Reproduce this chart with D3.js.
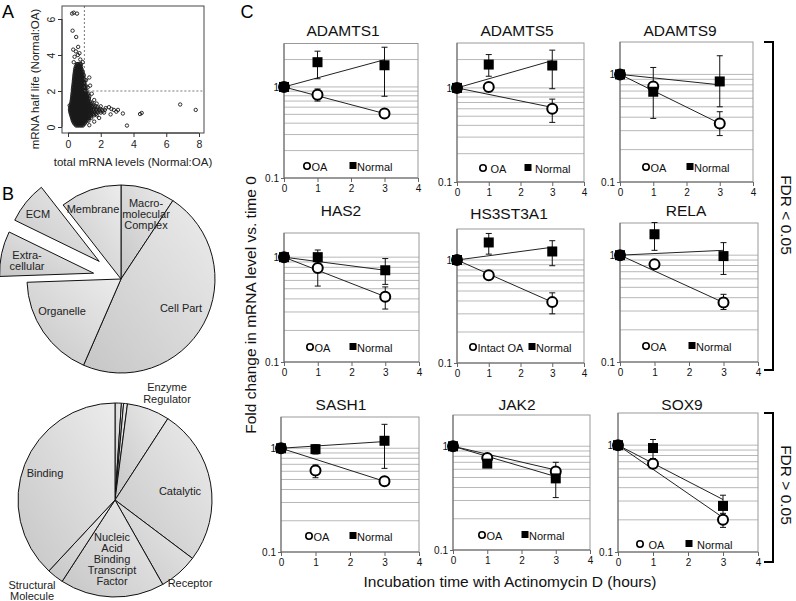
<!DOCTYPE html>
<html><head><meta charset="utf-8">
<script src="https://cdn.jsdelivr.net/npm/d3@7"></script>
<style>body{margin:0;background:#fff}svg{display:block;font-family:"Liberation Sans",Arial,sans-serif}</style>
</head><body><svg id="c" width="796" height="601"></svg>
<script>
// ---------------- Panel A data (half life ratio vs total level ratio) ----------------
const scatterRows = [
 [3.5,[0.55,0.62,0.7,0.78]],
 [3.42,[0.52,0.6,0.68,0.76]],
 [3.35,[0.48,0.56,0.64,0.72,0.8]],
 [3.27,[0.46,0.54,0.62,0.7,0.78]],
 [3.2,[0.44,0.52,0.6,0.68,0.76,0.84]],
 [3.12,[0.43,0.51,0.59,0.67,0.75,0.83]],
 [3.05,[0.42,0.5,0.58,0.66,0.74,0.82,0.9]],
 [2.97,[0.41,0.49,0.57,0.65,0.73,0.81,0.89]],
 [2.9,[0.4,0.48,0.56,0.64,0.72,0.8,0.88,0.96]],
 [2.82,[0.39,0.47,0.55,0.63,0.71,0.79,0.87,0.95]],
 [2.75,[0.38,0.46,0.54,0.62,0.7,0.78,0.86,0.94]],
 [2.67,[0.37,0.45,0.53,0.61,0.69,0.77,0.85,0.93]],
 [2.6,[0.36,0.44,0.52,0.6,0.68,0.76,0.84,0.92,1.02]],
 [2.52,[0.36,0.44,0.52,0.6,0.68,0.76,0.84,0.92,0.99]],
 [2.45,[0.35,0.43,0.51,0.59,0.67,0.75,0.83,0.91,1.0]],
 [2.37,[0.34,0.42,0.5,0.58,0.66,0.74,0.82,0.9,1.0]],
 [2.3,[0.33,0.41,0.49,0.57,0.65,0.73,0.81,0.89,0.98,1.08]],
 [2.22,[0.32,0.4,0.48,0.56,0.64,0.72,0.8,0.88,0.97,1.07]],
 [2.15,[0.31,0.39,0.47,0.55,0.63,0.71,0.79,0.87,0.96,1.06]],
 [2.07,[0.3,0.38,0.46,0.54,0.62,0.7,0.78,0.86,0.95,1.05]],
 [2.0,[0.3,0.38,0.46,0.54,0.62,0.7,0.78,0.86,0.94,1.03,1.13]],
 [1.92,[0.29,0.37,0.45,0.53,0.61,0.69,0.77,0.85,0.93,1.02,1.12]],
 [1.85,[0.28,0.36,0.44,0.52,0.6,0.68,0.76,0.84,0.92,1.0,1.1,1.22]],
 [1.77,[0.27,0.35,0.43,0.51,0.59,0.67,0.75,0.83,0.91,0.99,1.08,1.19]],
 [1.7,[0.26,0.34,0.42,0.5,0.58,0.66,0.74,0.82,0.9,0.98,1.07,1.17,1.3]],
 [1.62,[0.25,0.33,0.41,0.49,0.57,0.65,0.73,0.81,0.89,0.97,1.06,1.16,1.28]],
 [1.55,[0.24,0.32,0.4,0.48,0.56,0.64,0.72,0.8,0.88,0.96,1.05,1.15,1.27]],
 [1.47,[0.23,0.31,0.39,0.47,0.55,0.63,0.71,0.79,0.87,0.95,1.03,1.13,1.25]],
 [1.4,[0.22,0.3,0.38,0.46,0.54,0.62,0.7,0.78,0.86,0.94,1.02,1.11,1.22,1.35]],
 [1.32,[0.2,0.28,0.36,0.44,0.52,0.6,0.68,0.76,0.84,0.92,1.0,1.08,1.19,1.31,1.45]],
 [1.25,[0.18,0.26,0.34,0.42,0.5,0.58,0.66,0.74,0.82,0.9,0.98,1.06,1.16,1.27,1.4,1.55]],
 [1.17,[0.16,0.24,0.32,0.4,0.48,0.56,0.64,0.72,0.8,0.88,0.96,1.04,1.13,1.23,1.36,1.5,1.68]],
 [1.1,[0.14,0.22,0.3,0.38,0.46,0.54,0.62,0.7,0.78,0.86,0.94,1.02,1.1,1.2,1.32,1.46,1.62,1.8]],
 [1.02,[0.13,0.21,0.29,0.37,0.45,0.53,0.61,0.69,0.77,0.85,0.93,1.01,1.09,1.18,1.29,1.42,1.57,1.74,1.95]],
 [0.95,[0.12,0.2,0.28,0.36,0.44,0.52,0.6,0.68,0.76,0.84,0.92,1.0,1.08,1.17,1.28,1.4,1.54,1.7,1.88,2.06,2.25]],
 [0.87,[0.14,0.22,0.3,0.38,0.46,0.54,0.62,0.7,0.78,0.86,0.94,1.02,1.1,1.2,1.31,1.44,1.58,1.75,1.94,2.12]],
 [0.8,[0.15,0.23,0.31,0.39,0.47,0.55,0.63,0.71,0.79,0.87,0.95,1.03,1.12,1.22,1.34,1.47,1.62,1.8,2.0,2.2]],
 [0.72,[0.18,0.26,0.34,0.42,0.5,0.58,0.66,0.74,0.82,0.9,0.98,1.06,1.16,1.27,1.39,1.53,1.7]],
 [0.65,[0.2,0.28,0.36,0.44,0.52,0.6,0.68,0.76,0.84,0.92,1.0,1.09,1.19,1.3,1.43,1.58,1.75]],
 [0.57,[0.23,0.31,0.39,0.47,0.55,0.63,0.71,0.79,0.87,0.95,1.04,1.13,1.24,1.37]],
 [0.5,[0.25,0.33,0.41,0.49,0.57,0.65,0.73,0.81,0.89,0.97,1.06,1.16,1.28,1.42]],
 [0.42,[0.28,0.36,0.44,0.52,0.6,0.68,0.76,0.84,0.92,1.0,1.1,1.21]],
 [0.35,[0.3,0.38,0.46,0.54,0.62,0.7,0.78,0.86,0.94,1.03,1.13,1.25]],
 [0.27,[0.34,0.43,0.52,0.61,0.7,0.79,0.88,0.97,1.07]],
 [0.2,[0.38,0.47,0.56,0.65,0.74,0.83,0.92,1.02]],
 [0.14,[0.45,0.55,0.65,0.75,0.85,0.95]],
 [0.08,[0.5,0.6,0.7,0.8,0.9]]
];
const scatterOutliers = [
 [0.25,6.3],[0.35,6.35],[0.55,6.3],[0.28,5.35],[0.5,5.0],[0.62,4.45],[0.32,4.3],[0.48,4.2],
 [0.6,4.0],[0.7,4.1],[0.4,3.9],[0.75,3.75],[0.35,3.6],[0.9,3.6],[1.3,2.75],[1.35,2.3],
 [1.1,2.6],[1.2,2.2],[1.45,1.85],[1.6,1.5],[1.75,1.3],[2.0,1.15],[2.3,1.05],[2.5,1.1],
 [2.65,1.0],[2.8,0.95],[2.95,0.85],[3.05,0.95],[3.35,0.75],[2.6,0.7],[3.6,0.08],[4.4,0.72],
 [4.5,0.78],[6.85,1.25],[7.8,0.95],[1.9,0.5],[1.6,0.3],[1.3,0.1],[0.1,1.2]
];
const scatterTicksX = [0,2,4,6,8];
const scatterTicksY = [0,2,4,6];
const cutoffX = 1, cutoffY = 2;

// ---------------- Panel B data (degrees of pie) ----------------
const compCategories = ["Macro-molecular Complex","Cell Part","Organelle","Extra-cellular","ECM","Membrane"];
const compValues = [33.5,170,64.5,28,26,38];
const compExploded = [false,false,false,true,true,false];
const funcCategories = ["minor1","minor2","minor3","Enzyme Regulator","Catalytic","Receptor","Nucleic Acid Binding Transcript Factor","Structural Molecule","Binding"];
const funcValues = [3.8,1.3,2.3,25.6,94,23.5,62.5,10,137];

// ---------------- Panel C data ----------------
const genes = ["ADAMTS1","ADAMTS5","ADAMTS9","HAS2","HS3ST3A1","RELA","SASH1","JAK2","SOX9"];
const timePoints = [0,1,3];
const xTickValues = [0,1,2,3,4];
const yMaxValues = [3,3,2,1.7,2,2,2,2,2];
const oaMean = [[1,0.82,0.51],[1,1.02,0.60],[1,0.77,0.35],[1,0.79,0.42],[1,0.71,0.39],[1,0.82,0.36],[1,0.61,0.48],[1,0.77,0.57],[1,0.67,0.20]];
const oaLow  = [[null,0.70,null],[null,null,0.43],[null,null,0.27],[null,0.53,0.32],[null,null,0.30],[null,null,0.31],[null,0.52,null],[null,null,0.50],[null,null,0.17]];
const oaHigh = [[null,0.95,null],[null,null,0.76],[null,null,0.45],[null,0.90,0.52],[null,null,0.48],[null,null,0.43],[null,0.69,null],[null,null,0.70],[null,null,0.23]];
const normalMean = [[1,1.87,1.73],[1,1.77,1.73],[1,0.69,0.86],[1,1.0,0.75],[1,1.48,1.21],[1,1.57,0.98],[1,0.98,1.18],[1,0.68,0.49],[1,0.94,0.27]];
const normalLow  = [[null,1.23,0.79],[null,1.33,0.98],[null,0.39,0.50],[null,0.95,0.55],[null,1.14,0.88],[null,1.11,0.66],[null,0.88,0.64],[null,null,0.32],[null,0.75,0.21]];
const normalHigh = [[null,2.47,2.73],[null,2.26,2.52],[null,1.16,1.49],[null,1.17,0.97],[null,1.81,1.54],[null,2.02,1.31],[null,1.08,1.70],[null,null,0.60],[null,1.13,0.34]];
const oaFit = [[1,0.51],[1,0.62],[1,0.35],[1,0.42],[1,0.39],[1,0.36],[1,0.48],[1,0.59],[1,0.21]];
const normalFit = [[1,1.99],[1,1.95],[1,0.80],[1,0.75],[1,1.33],[1,1.11],[1,1.16],[1,0.51],[1,0.31]];
const fitTimes = [0,3];
const oaLegend = ["OA","OA","OA","OA","Intact OA","OA","OA","OA","OA"];
const normalLegend = "Normal";
const gridValues = [0.2,0.3,0.4,0.5,0.6,0.7,0.8,0.9,1,2];
const fdrLabels = ["FDR < 0.05","FDR > 0.05"];

// ---------------- layout ----------------
const svg = d3.select("#c");
const font = "'Liberation Sans',Arial,sans-serif";

[["A",8,18],["B",8,200],["C",247,18]].forEach(([t,x,y])=>{
  svg.append("text").attr("x",x).attr("y",y).attr("font-size",18).attr("text-anchor","middle").text(t);
});

// ---- Panel A ----
(function(){
  const box = {l:62,r:204,t:6,b:133};
  const x = d3.scaleLinear().domain([0,8]).range([68,199]);
  const y = d3.scaleLinear().domain([0,6]).range([127,19]);
  const g = svg.append("g");
  const pts = [];
  scatterRows.forEach(([yy,xs])=>xs.forEach(xx=>pts.push([xx,yy])));
  scatterOutliers.forEach(p=>pts.push(p));
  g.selectAll("circle").data(pts).join("circle")
    .attr("cx",d=>x(d[0])).attr("cy",d=>y(d[1])).attr("r",1.7)
    .attr("fill","none").attr("stroke","#1a1a1a").attr("stroke-width",0.9);
  g.append("line").attr("x1",x(cutoffX)).attr("x2",x(cutoffX)).attr("y1",box.t).attr("y2",y(cutoffY))
    .attr("stroke","#555").attr("stroke-dasharray","2,2").attr("stroke-width",0.8);
  g.append("line").attr("x1",x(cutoffX)).attr("x2",box.r).attr("y1",y(cutoffY)).attr("y2",y(cutoffY))
    .attr("stroke","#555").attr("stroke-dasharray","2,2").attr("stroke-width",0.8);
  g.append("rect").attr("x",box.l).attr("y",box.t).attr("width",box.r-box.l).attr("height",box.b-box.t)
    .attr("fill","none").attr("stroke","#333").attr("stroke-width",0.9);
  const xa = g.append("g").attr("transform",`translate(0,${box.b})`)
    .call(d3.axisBottom(x).tickValues(scatterTicksX).tickSize(4).tickPadding(4).tickFormat(d3.format("d")));
  xa.select(".domain").attr("d",`M${x(0)},0H${x(8)}`).attr("stroke","#333");
  xa.selectAll("text").attr("font-size",10.5).attr("font-family",font).attr("fill","#222");
  xa.selectAll("line").attr("stroke","#333");
  const ya = g.append("g").attr("transform",`translate(${box.l},0)`)
    .call(d3.axisLeft(y).tickValues(scatterTicksY).tickSize(4).tickFormat(d3.format("d")));
  ya.select(".domain").attr("d",`M0,${y(0)}V${y(6)}`).attr("stroke","#333");
  ya.selectAll("line").attr("stroke","#333");
  ya.selectAll("text").attr("font-size",10.5).attr("font-family",font).attr("fill","#222")
    .attr("text-anchor","middle").attr("x",0).attr("dy",0)
    .attr("transform","translate(-7,0) rotate(-90)");
  g.append("text").attr("x",133).attr("y",166).attr("text-anchor","middle").attr("font-size",11.5).attr("fill","#222")
    .text("total mRNA levels (Normal:OA)");
  g.append("text").attr("transform","translate(39,79) rotate(-90)").attr("text-anchor","middle").attr("font-size",11.5).attr("fill","#222")
    .text("mRNA half life (Normal:OA)");
})();

// ---- Panel B ----
const defs = svg.append("defs");
const grad = defs.append("linearGradient").attr("id","pieGrad").attr("x1","1").attr("y1","0").attr("x2","0").attr("y2","1");
grad.append("stop").attr("offset","0").attr("stop-color","#ececec");
grad.append("stop").attr("offset","1").attr("stop-color","#c6c6c6");

function drawPie(cx,cy,r,vals,exploded,labels){
  const arcsData = d3.pie().sort(null)(vals);
  const arc = d3.arc().innerRadius(0).outerRadius(r);
  const g = svg.append("g").attr("transform",`translate(${cx},${cy})`);
  g.selectAll("path").data(arcsData).join("path")
    .attr("d",arc)
    .attr("transform",(d,i)=>{
      if(!exploded || !exploded[i]) return null;
      const m=(d.startAngle+d.endAngle)/2, off=28;
      return `translate(${off*Math.sin(m)},${-off*Math.cos(m)})`;
    })
    .attr("fill","url(#pieGrad)").attr("stroke","#111").attr("stroke-width",1);
  labels.forEach(L=>{
    const t = svg.append("text").attr("font-size",11).attr("fill","#222").attr("text-anchor","middle");
    L.lines.forEach((ln,k)=>t.append("tspan").attr("x",L.x).attr("y",L.y+k*L.lh).text(ln));
  });
}
drawPie(121,279,94,compValues,compExploded,[
  {x:146,y:207,lh:11,lines:["Macro-","molecular","Complex"]},
  {x:93,y:213,lh:11,lines:["Membrane"]},
  {x:38,y:218,lh:11,lines:["ECM"]},
  {x:27,y:259,lh:11,lines:["Extra-","cellular"]},
  {x:62,y:315,lh:11,lines:["Organelle"]},
  {x:181,y:312,lh:11,lines:["Cell Part"]}
]);
drawPie(115,500,97,funcValues,null,[
  {x:167,y:391,lh:12,lines:["Enzyme","Regulator"]},
  {x:180,y:495,lh:11,lines:["Catalytic"]},
  {x:45,y:477,lh:11,lines:["Binding"]},
  {x:112,y:541,lh:11,lines:["Nucleic","Acid","Binding","Transcript","Factor"]},
  {x:190,y:587,lh:11,lines:["Receptor"]},
  {x:32,y:589,lh:11,lines:["Structural","Molecule"]}
]);

// ---- Panel C ----
const panels = [
 {x0:284,x1:418,top:43.5,bottom:178,tx:343,ty:36,leg:[307,353,166,4.5]},
 {x0:457,x1:584,top:43,bottom:182,tx:517,ty:36,leg:[483,528,168,7.5]},
 {x0:620,x1:753,top:42,bottom:182,tx:680,ty:36,leg:[646,690,167,4.5]},
 {x0:284,x1:419,top:233,bottom:362,tx:341,ty:216,leg:[310,353,347,4.5]},
 {x0:457,x1:584,top:229,bottom:363,tx:509,ty:219,leg:[473,532,347,4.5]},
 {x0:620,x1:758,top:223,bottom:362,tx:686,ty:216,leg:[646,692,346,4.5]},
 {x0:281,x1:419,top:417,bottom:552,tx:341,ty:410,leg:[309,353,536,4.5]},
 {x0:453,x1:590,top:415,bottom:550,tx:517,ty:410,leg:[482,525,535,4.5]},
 {x0:618,x1:758,top:413,bottom:552,tx:682,ty:410,leg:[640,689,544,8.5]}
];
genes.forEach((gene,i)=>{
  const P = panels[i];
  const x = d3.scaleLinear().domain([0,4]).range([P.x0,P.x1]);
  const y = d3.scaleLog().domain([0.1,yMaxValues[i]]).range([P.bottom,P.top]);
  const g = svg.append("g");
  g.selectAll(".grid").data(gridValues.filter(v=>v<yMaxValues[i])).join("line").attr("class","grid")
    .attr("x1",P.x0).attr("x2",P.x1).attr("y1",d=>y(d)).attr("y2",d=>y(d))
    .attr("stroke","#b8b8b8").attr("stroke-width",1);
  g.append("rect").attr("x",P.x0).attr("y",P.top).attr("width",P.x1-P.x0).attr("height",P.bottom-P.top)
    .attr("fill","none").attr("stroke","#999").attr("stroke-width",1);
  const xa = g.append("g").attr("transform",`translate(0,${P.bottom})`)
    .call(d3.axisBottom(x).tickValues(xTickValues).tickSize(4).tickPadding(3).tickFormat(d3.format("d")));
  xa.select(".domain").attr("stroke","#666").attr("d",`M${P.x0},0H${P.x1}`);
  xa.selectAll("line").attr("stroke","#666");
  xa.selectAll("text").attr("font-size",10).attr("font-family",font).attr("fill","#111");
  const ya = g.append("g").attr("transform",`translate(${P.x0},0)`)
    .call(d3.axisLeft(y).tickValues([0.1,1]).tickSize(3).tickPadding(2).tickFormat(d=>d>=1?"1":"0.1"));
  ya.select(".domain").attr("stroke","#666").attr("d",`M0,${P.bottom}V${P.top}`);
  ya.selectAll("line").attr("stroke","#666");
  ya.selectAll("text").attr("font-size",10).attr("font-family",font).attr("fill","#111");
  g.append("text").attr("x",P.tx).attr("y",P.ty).attr("text-anchor","middle").attr("font-size",15.5).attr("fill","#111").text(gene);
  const line = d3.line().x(d=>x(d[0])).y(d=>y(d[1]));
  [oaFit[i],normalFit[i]].forEach(f=>{
    g.append("path").attr("d",line(fitTimes.map((t,k)=>[t,f[k]]))).attr("fill","none").attr("stroke","#222").attr("stroke-width",1);
  });
  const errs = [];
  timePoints.forEach((t,k)=>{
    if(oaLow[i][k]!=null) errs.push([t,oaLow[i][k],oaHigh[i][k]]);
    if(normalLow[i][k]!=null) errs.push([t,normalLow[i][k],normalHigh[i][k]]);
  });
  errs.forEach(([t,lo,hi])=>{
    const X=x(t);
    g.append("line").attr("x1",X).attr("x2",X).attr("y1",y(lo)).attr("y2",y(hi)).attr("stroke","#111").attr("stroke-width",1);
    [lo,hi].forEach(v=>g.append("line").attr("x1",X-3).attr("x2",X+3).attr("y1",y(v)).attr("y2",y(v)).attr("stroke","#111").attr("stroke-width",1));
  });
  g.selectAll(".oa").data(timePoints.map((t,k)=>[t,oaMean[i][k]])).join("circle").attr("class","oa")
    .attr("cx",d=>x(d[0])).attr("cy",d=>y(d[1])).attr("r",5).attr("fill","#fff").attr("stroke","#000").attr("stroke-width",2);
  g.selectAll(".nm").data(timePoints.map((t,k)=>[t,normalMean[i][k]])).join("rect").attr("class","nm")
    .attr("x",d=>x(d[0])-5).attr("y",d=>y(d[1])-5).attr("width",10).attr("height",10).attr("fill","#000");
  const [lc,ls,ly,gap] = P.leg;
  g.append("circle").attr("cx",lc).attr("cy",ly).attr("r",3.2).attr("fill","#fff").attr("stroke","#000").attr("stroke-width",1.6);
  g.append("text").attr("x",lc+gap).attr("y",ly+4.5).attr("font-size",11).attr("fill","#111").text(oaLegend[i]);
  g.append("rect").attr("x",ls-3.5).attr("y",ly-4).attr("width",7).attr("height",7).attr("fill","#000");
  g.append("text").attr("x",ls+gap-0.5).attr("y",ly+4.5).attr("font-size",11).attr("fill","#111").text(normalLegend);
});
svg.append("text").attr("transform","translate(256,305) rotate(-90)").attr("text-anchor","middle").attr("font-size",15.5).attr("fill","#111")
  .text("Fold change in mRNA level vs. time 0");
svg.append("text").attr("x",510).attr("y",587).attr("text-anchor","middle").attr("font-size",15.5).attr("fill","#111")
  .text("Incubation time with Actinomycin D (hours)");
[[42,370,215],[413,562,485]].forEach(([t,b,c],k)=>{
  svg.append("path").attr("d",`M764,${t}H773V${b}H764`).attr("fill","none").attr("stroke","#000").attr("stroke-width",2);
  svg.append("text").attr("transform",`translate(781,${c}) rotate(90)`).attr("text-anchor","middle").attr("font-size",15.5).attr("fill","#111")
    .text(fdrLabels[k]);
});
</script></body></html>
